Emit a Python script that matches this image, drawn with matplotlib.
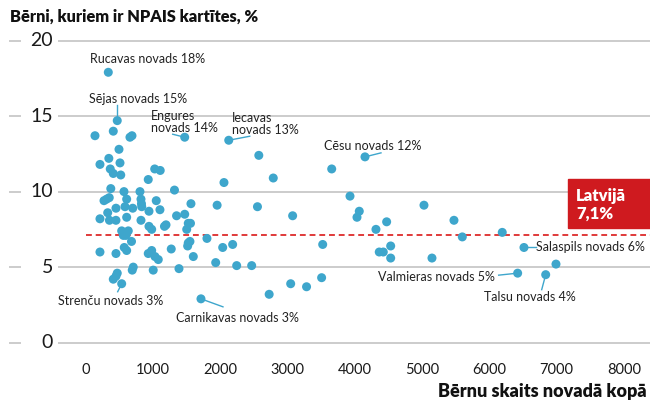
import matplotlib.pyplot as plt
from matplotlib.patches import Rectangle
import matplotlib.transforms as mtrans

plt.rcParams['font.family'] = ['Lato', 'DejaVu Sans']

# children count in municipality (x) and share with NPAIS cards, % (y)
children = [332, 465, 406, 134, 654, 684, 1468, 2123, 2570, 2785,
            491, 340, 208, 506, 361, 406, 517, 1022, 1104, 926,
            2052, 369, 565, 803, 1316, 4149, 3654, 3926, 4064, 4030,
            4471, 4312, 5026, 5472, 6190, 5596, 3520, 4361, 4421, 4531,
            4531, 5145, 6513, 6989, 6419, 6836, 3504, 2550, 3073, 2181,
            2033, 2241, 2464, 3044, 3280, 2724, 1710, 1929, 1799, 1383,
            1596, 1521, 1546, 1512, 1268, 1000, 688, 703, 406, 446,
            465, 531, 208, 446, 569, 605, 677, 926, 977, 1026,
            1075, 531, 555, 629, 595, 208, 349, 446, 605, 818,
            1347, 1468, 1521, 1554, 1498, 937, 977, 1190, 1167, 323,
            446, 580, 695, 829, 825, 818, 937, 1100, 1045, 1561,
            1950, 268, 306, 346, 605]
share = [17.9, 14.7, 14.0, 13.7, 13.6, 13.7, 13.6, 13.4, 12.4, 10.9,
         12.8, 12.2, 11.8, 11.9, 11.5, 11.2, 11.1, 11.5, 11.4, 10.8,
         10.6, 10.2, 10.0, 10.0, 10.1, 12.3, 11.5, 9.7, 8.7, 8.3,
         8.0, 7.5, 9.1, 8.1, 7.3, 7.0, 6.5, 6.0, 6.0, 6.4,
         5.6, 5.6, 6.3, 5.2, 4.6, 4.5, 4.3, 9.0, 8.4, 6.5,
         6.3, 5.1, 5.1, 3.9, 3.7, 3.2, 2.9, 5.3, 6.9, 4.9,
         5.7, 6.6, 6.7, 6.4, 6.2, 4.8, 4.8, 5.0, 4.2, 4.4,
         4.6, 3.9, 6.0, 5.9, 6.3, 6.1, 6.7, 5.9, 6.1, 5.7,
         5.5, 7.4, 7.1, 7.4, 7.1, 8.2, 8.1, 8.1, 8.3, 8.1,
         8.4, 8.5, 7.9, 7.9, 7.5, 7.7, 7.5, 7.8, 7.7, 8.6,
         8.9, 9.0, 8.9, 9.0, 9.2, 9.5, 8.7, 8.8, 9.4, 9.2,
         9.1, 9.4, 9.5, 9.6, 9.5]

# labelled municipalities: index into the arrays above
labels = {0: 'Rucavas novads 18%', 1: 'Sējas novads 15%',
          6: 'Engures\nnovads 14%', 7: 'Iecavas\nnovads 13%',
          25: 'Cēsu novads 12%', 42: 'Salaspils novads 6%',
          44: 'Valmieras novads 5%', 45: 'Talsu novads 4%',
          71: 'Strenču novads 3%', 56: 'Carnikavas novads 3%'}
# text offset (px) from dot, text alignment, leader end offset (px) or None
label_pos = {0: ((-18, 13), 'left', None),
             1: ((-28, 22), 'left', (0, 16)),
             6: ((-34, 15), 'left', (-12, 3)),
             7: ((3, 16), 'left', (21, 4)),
             25: ((-41, 11), 'left', (16, 4)),
             42: ((12, 0), 'left', (12, 0)),
             44: ((-23, -4), 'right', (-19, -2)),
             45: ((-62, -22), 'left', (-4, -15)),
             71: ((-64, -17), 'left', (-4, -8)),
             56: ((-25, -19), 'left', (22, -8))}

yticks = [0, 5, 10, 15, 20]
xticks = [0, 1000, 2000, 3000, 4000, 5000, 6000, 7000, 8000]
latvia_avg = 7.1

W, H = 650, 400
fig = plt.figure(figsize=(6.5, 4), dpi=100)
ax = fig.add_axes([58 / W, 1 - 360 / H, 592 / W, 330 / H])
ax.set_xlim(-416, 8387)
ax.set_ylim(-1.15, 20.7)
for s in ax.spines.values():
    s.set_visible(False)

blend = mtrans.blended_transform_factory(fig.transFigure, ax.transData)
for t in yticks:
    ax.axhline(t, color='#cccccc', lw=1.4, zorder=0)
    ax.plot([10 / W, 20 / W], [t, t], transform=blend, color='#cccccc',
            lw=1.4, clip_on=False)
    ax.text(53 / W, t, str(t), transform=blend, ha='right', va='center',
            fontsize=14, color='#1a1a1a')
ax.set_yticks([])
ax.set_xticks(xticks)
ax.set_xticklabels([str(v) for v in xticks], fontsize=10.5, color='#1a1a1a')
ax.tick_params(axis='x', length=0, pad=2)

ax.plot([0, 8380], [latvia_avg, latvia_avg], color='#e03a3a', lw=1.4,
        dashes=(3, 2), zorder=1)

ax.scatter(children, share, s=42, color='#3ea6cc', edgecolors='none', zorder=3)

px = 1 / 0.06725  # data units per pixel on x
py = 1 / 15.1
for i, txt in labels.items():
    (dx, dy), ha, lead = label_pos[i]
    x0, y0 = children[i], share[i]
    ax.text(x0 + dx * px, y0 + dy * py, txt, ha=ha, va='center',
            fontsize=9, color='#222222', linespacing=1.05)
    if lead is not None:
        lx, ly = lead
        ax.plot([x0, x0 + lx * px], [y0, y0 + ly * py], color='#3ea6cc',
                lw=1, zorder=2)

fig.patches.append(Rectangle((568 / W, 1 - 228 / H), 82 / W, 49 / H,
                             transform=fig.transFigure, color='#cf1a1f'))
fig.text(576 / W, 1 - 205 / H, 'Latvijā\n7,1%', color='white',
         fontsize=12, fontweight='heavy', va='center', ha='left',
         linespacing=1.15)

fig.text(10 / W, 1 - 17 / H, 'Bērni, kuriem ir NPAIS kartītes, %',
         fontsize=11.8, fontweight='heavy', va='center', color='#111111')
fig.text(647 / W, 1 - 392 / H, 'Bērnu skaits novadā kopā', fontsize=13,
         fontweight='heavy', va='center', ha='right', color='#111111')

fig.savefig('out.png', dpi=100)
